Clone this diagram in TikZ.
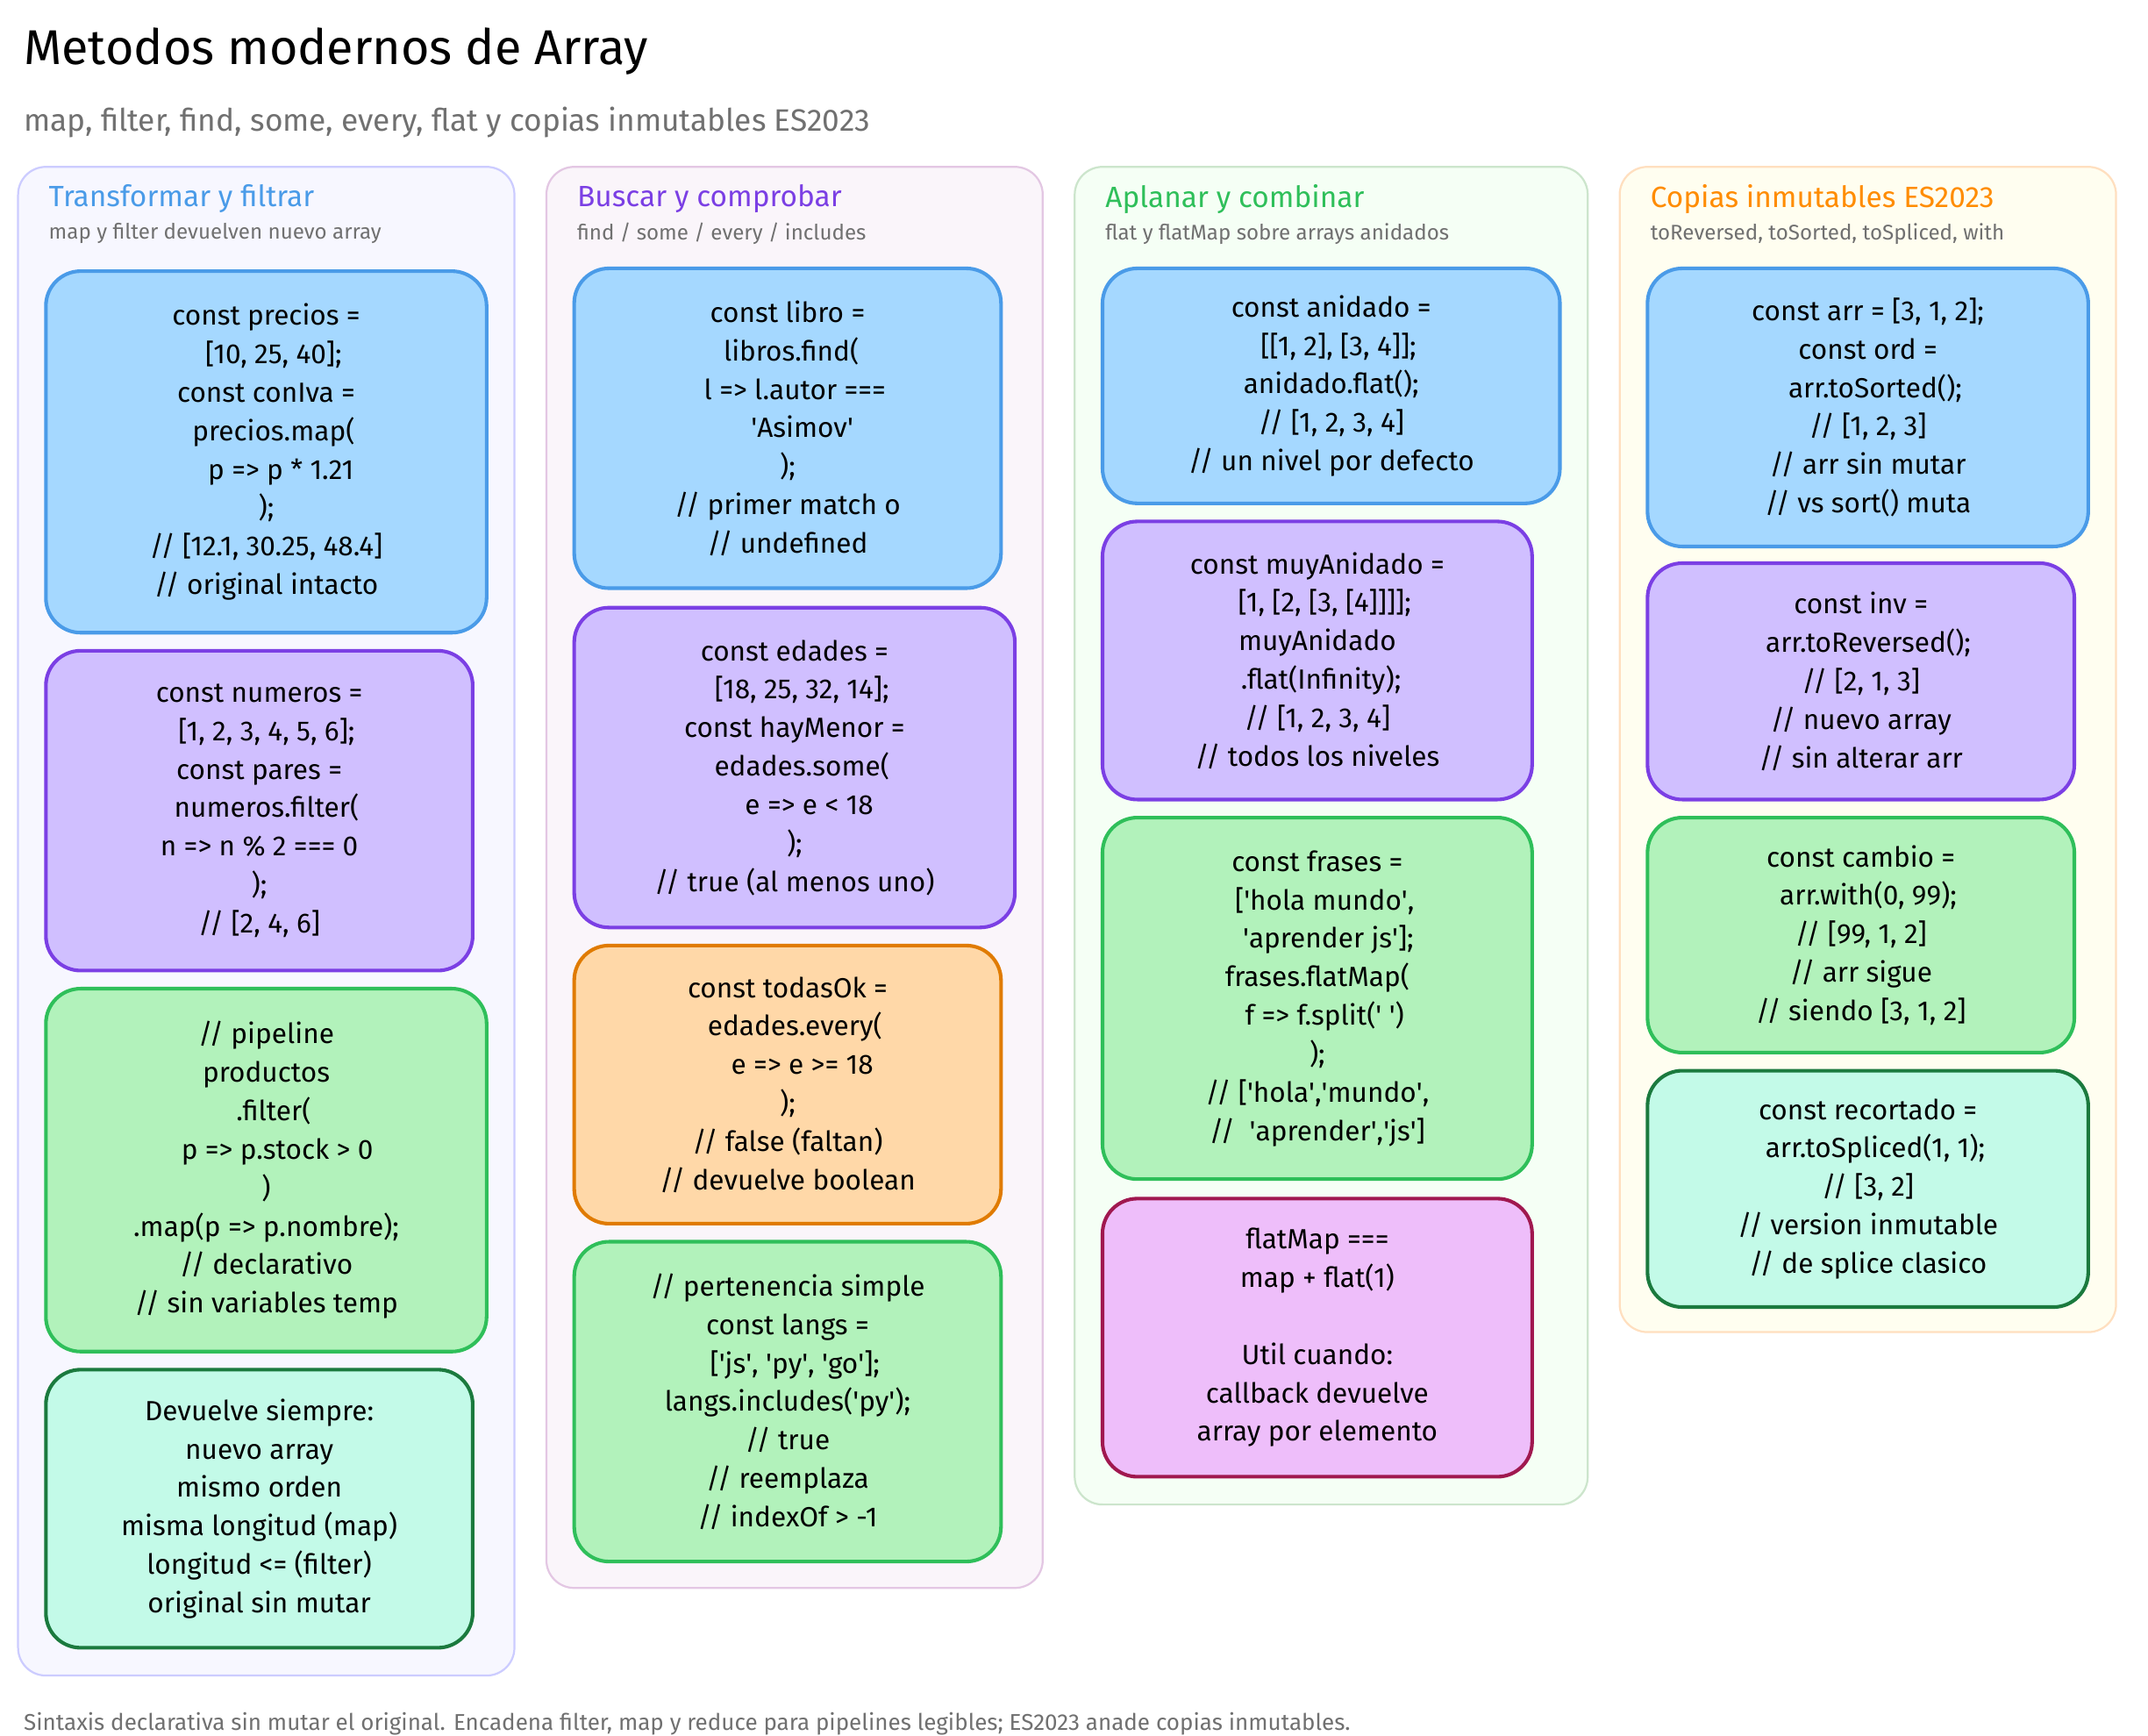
\documentclass[tikz,border=0pt]{standalone}
\usepackage{fontspec}
\setmainfont{Fira Sans}
\newcommand\sq{\textquotesingle}
\begin{document}
\begin{tikzpicture}[x=0.03cm,y=-0.03cm,
 panel/.style={rounded corners=0.6cm,line width=1.2pt},
 box/.style={rounded corners=0.75cm,line width=2.2pt,align=center,font=\fontsize{17}{23.6}\selectfont,inner sep=0pt},
 bblue/.style={box,fill=cBlueF,draw=cBlueD},
 bpurp/.style={box,fill=cPurF,draw=cPurD},
 bgreen/.style={box,fill=cGrF,draw=cGrD},
 bteal/.style={box,fill=cTealF,draw=cTealD},
 borange/.style={box,fill=cOrF,draw=cOrD},
 bpink/.style={box,fill=cPinkF,draw=cPinkD},
 ptitle/.style={anchor=west,font=\fontsize{18}{20}\selectfont},
 psub/.style={anchor=west,font=\fontsize{13}{15}\selectfont,text=cGray}]
\definecolor{cBlueF}{HTML}{A5D8FF}\definecolor{cBlueD}{HTML}{4A9BE8}
\definecolor{cPurF}{HTML}{D0BFFF}\definecolor{cPurD}{HTML}{7B3FE4}
\definecolor{cGrF}{HTML}{B2F2BB}\definecolor{cGrD}{HTML}{2FBF5A}
\definecolor{cTealF}{HTML}{C3FAE8}\definecolor{cTealD}{HTML}{1B7A3E}
\definecolor{cOrF}{HTML}{FFD8A8}\definecolor{cOrD}{HTML}{E07B00}
\definecolor{cPinkF}{HTML}{EEBEFA}\definecolor{cPinkD}{HTML}{A0184F}
\definecolor{cGray}{HTML}{707070}
\newcommand\bx[7]{\node[#6,minimum width={(#4-#2)*0.03cm},minimum height={(#5-#3)*0.03cm}] (#1) at ({(#2+#4)/2},{(#3+#5)/2}) {#7};}
\useasboundingbox[fill=white] (0,0) rectangle (1545,1248);
\node[anchor=west,font=\fontsize{30}{34}\selectfont] (title) at (13,37) {Metodos modernos de Array};
\node[anchor=west,font=\fontsize{19}{22}\selectfont,text=cGray] (sub) at (13,88) {map, filter, find, some, every, flat y copias inmutables ES2023};
% panels
\draw[panel,fill=blue!3,draw=blue!20] (13,120) rectangle (370,1205);
\draw[panel,fill=violet!4,draw=violet!22] (393,120) rectangle (750,1142);
\draw[panel,fill=green!4,draw=green!50!black!20] (773,120) rectangle (1142,1082);
\draw[panel,fill=yellow!6,draw=orange!25] (1165,120) rectangle (1522,958);
\node[ptitle,text=cBlueD] (t1) at (31,143) {Transformar y filtrar};
\node[psub] (s1) at (31,168) {map y filter devuelven nuevo array};
\node[ptitle,text=cPurD] (t2) at (411,143) {Buscar y comprobar};
\node[psub] (s2) at (411,168) {find / some / every / includes};
\node[ptitle,text=cGrD] (t3) at (791,143) {Aplanar y combinar};
\node[psub] (s3) at (791,168) {flat y flatMap sobre arrays anidados};
\node[ptitle,text=orange!90!yellow] (t4) at (1183,143) {Copias inmutables ES2023};
\node[psub] (s4) at (1183,168) {toReversed, toSorted, toSpliced, with};
% column 1
\bx{a1}{33}{195}{350}{455}{bblue}{const precios =\\ \ \ [10, 25, 40];\\const conIva =\\ \ \ precios.map(\\ \ \ \ \ p => p * 1.21\\);\\// [12.1, 30.25, 48.4]\\// original intacto}
\bx{a2}{33}{468}{340}{698}{bpurp}{const numeros =\\ \ \ [1, 2, 3, 4, 5, 6];\\const pares =\\ \ \ numeros.filter(\\n => n \% 2 === 0\\);\\// [2, 4, 6]}
\bx{a3}{33}{711}{350}{972}{bgreen}{// pipeline\\productos\\ \ \ .filter(\\ \ \ \ p => p.stock > 0\\)\\.map(p => p.nombre);\\// declarativo\\// sin variables temp}
\bx{a4}{33}{985}{340}{1185}{bteal}{Devuelve siempre:\\nuevo array\\mismo orden\\misma longitud (map)\\longitud <= (filter)\\original sin mutar}
% column 2
\bx{b1}{413}{193}{720}{423}{bblue}{const libro =\\ \ libros.find(\\ \ \ l => l.autor ===\\ \ \ \ \ \sq Asimov\sq\\);\\// primer match o\\// undefined}
\bx{b2}{413}{437}{730}{667}{bpurp}{const edades =\\ \ \ [18, 25, 32, 14];\\const hayMenor =\\ \ \ edades.some(\\ \ \ \ \ e => e < 18\\);\\// true (al menos uno)}
\bx{b3}{413}{680}{720}{880}{borange}{const todasOk =\\ \ \ edades.every(\\ \ \ \ \ e => e >= 18\\);\\// false (faltan)\\// devuelve boolean}
\bx{b4}{413}{893}{720}{1123}{bgreen}{// pertenencia simple\\const langs =\\ \ \ [\sq js\sq, \sq py\sq, \sq go\sq];\\langs.includes(\sq py\sq);\\// true\\// reemplaza\\// indexOf > -1}
% column 3
\bx{c1}{793}{193}{1122}{362}{bblue}{const anidado =\\ \ \ [[1, 2], [3, 4]];\\anidado.flat();\\// [1, 2, 3, 4]\\// un nivel por defecto}
\bx{c2}{793}{375}{1102}{575}{bpurp}{const muyAnidado =\\ \ \ [1, [2, [3, [4]]]];\\muyAnidado\\ \ .flat(Infinity);\\// [1, 2, 3, 4]\\// todos los niveles}
\bx{c3}{793}{588}{1102}{848}{bgreen}{const frases =\\ \ \ [\sq hola mundo\sq,\\ \ \ \ \sq aprender js\sq];\\frases.flatMap(\\ \ \ f => f.split(\sq\ \sq)\\);\\// [\sq hola\sq,\sq mundo\sq,\\// \ \sq aprender\sq,\sq js\sq]}
\bx{c4}{793}{862}{1102}{1062}{bpink}{flatMap ===\\map + flat(1)\\ \\Util cuando:\\callback devuelve\\array por elemento}
% column 4
\bx{d1}{1185}{193}{1502}{393}{bblue}{const arr = [3, 1, 2];\\const ord =\\ \ \ arr.toSorted();\\// [1, 2, 3]\\// arr sin mutar\\// vs sort() muta}
\bx{d2}{1185}{405}{1492}{575}{bpurp}{const inv =\\ \ \ arr.toReversed();\\// [2, 1, 3]\\// nuevo array\\// sin alterar arr}
\bx{d3}{1185}{588}{1492}{757}{bgreen}{const cambio =\\ \ \ arr.with(0, 99);\\// [99, 1, 2]\\// arr sigue\\// siendo [3, 1, 2]}
\bx{d4}{1185}{770}{1502}{940}{bteal}{const recortado =\\ \ \ arr.toSpliced(1, 1);\\// [3, 2]\\// version inmutable\\// de splice clasico}
\node[anchor=west,font=\fontsize{14}{16}\selectfont,text=cGray] (foot) at (13,1240) {Sintaxis declarativa sin mutar el original. Encadena filter, map y reduce para pipelines legibles; ES2023 anade copias inmutables.};
\end{tikzpicture}
\end{document}
